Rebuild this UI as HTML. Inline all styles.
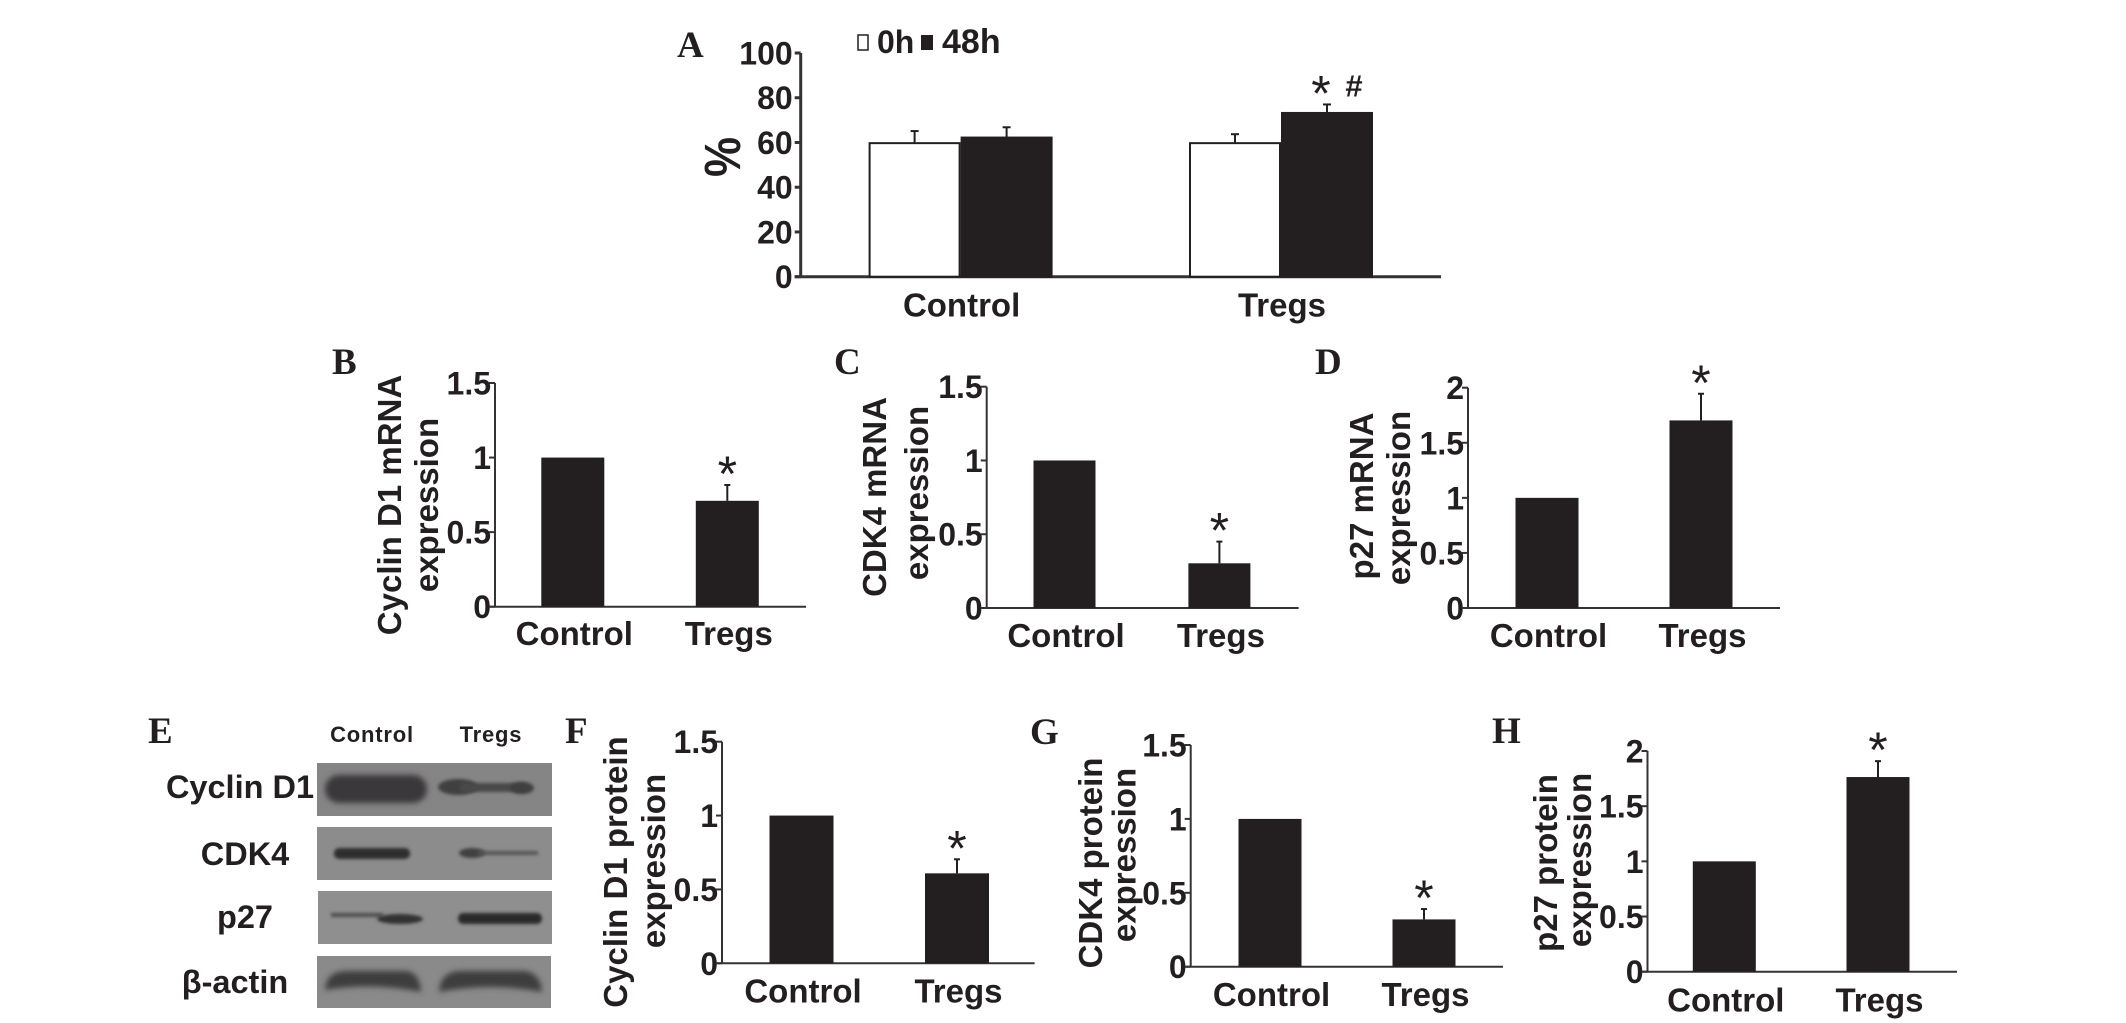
<!DOCTYPE html>
<html lang="en">
<head>
<meta charset="utf-8">
<title>Cell cycle protein and mRNA expression panels</title>
<style>
html,body{margin:0;padding:0;background:#fff;}
svg{display:block;}
text{font-family:"Liberation Sans",Arial,sans-serif;fill:#231f20;}
.bold{font-weight:700;}
.letter{font-family:"Liberation Serif",serif;font-weight:700;font-size:37px;}
</style>
</head>
<body>
<svg id="figure" xmlns="http://www.w3.org/2000/svg" width="2126" height="1023" viewBox="0 0 2126 1023">
  <defs>
    <filter id="blur2" x="-20%" y="-400%" width="140%" height="900%"><feGaussianBlur stdDeviation="1.6"/></filter>
    <filter id="blur4" x="-20%" y="-100%" width="140%" height="300%"><feGaussianBlur stdDeviation="3"/></filter>
    <clipPath id="blot-clip-1"><rect x="317" y="763" width="235" height="53"/></clipPath>
  </defs>
  <rect width="2126" height="1023" fill="#ffffff"/>

  <g>
    <text class="letter" x="148" y="743">E</text>
    <text class="bold" x="372" y="742" text-anchor="middle" font-size="22" letter-spacing="0.8" fill="#333">Control</text>
    <text class="bold" x="491" y="742" text-anchor="middle" font-size="22" letter-spacing="0.8" fill="#333">Tregs</text>

    <text class="bold" x="240" y="798" text-anchor="middle" font-size="32.5">Cyclin D1</text>
    <text class="bold" x="245" y="865" text-anchor="middle" font-size="32.5">CDK4</text>
    <text class="bold" x="245" y="928" text-anchor="middle" font-size="32.5">p27</text>
    <text class="bold" x="235" y="993" text-anchor="middle" font-size="32.5">β-actin</text>

    <g>
      <rect x="317" y="763" width="235" height="53" fill="#858585"/>
      <rect x="325" y="775" width="102" height="28" rx="14" fill="#3b393a" filter="url(#blur4)"/>
      <ellipse cx="458" cy="787" rx="20" ry="8" fill="#3f3f3f" filter="url(#blur2)"/>
      <rect x="460" y="783" width="66" height="9" fill="#484848" filter="url(#blur2)"/>
      <ellipse cx="522" cy="788" rx="12" ry="6" fill="#3f3f3f" filter="url(#blur2)"/>
    </g>
    <g>
      <rect x="317" y="827" width="235" height="53" fill="#8c8c8c"/>
      <rect x="334" y="848" width="76" height="11" rx="5" fill="#2e2e2e" filter="url(#blur2)"/>
      <ellipse cx="472" cy="853" rx="13" ry="5" fill="#404040" filter="url(#blur2)"/>
      <rect x="478" y="851" width="60" height="4" fill="#555" filter="url(#blur2)"/>
    </g>
    <g>
      <rect x="318" y="891" width="234" height="53" fill="#8f8f8f"/>
      <rect x="331" y="913" width="52" height="4" fill="#4e4e4e" filter="url(#blur2)"/>
      <ellipse cx="400" cy="919" rx="23" ry="5" fill="#303030" filter="url(#blur2)"/>
      <rect x="458" y="913" width="84" height="11" rx="5" fill="#2c2c2c" filter="url(#blur2)"/>
    </g>
    <g>
      <rect x="317" y="956" width="234" height="52" fill="#8a8a8a"/>
      <path d="M325 990 Q326 972 345 971 L405 971 Q420 972 421 992 Q372 982 325 990 Z" fill="#3c3c3c" filter="url(#blur4)"/>
      <path d="M439 992 Q440 972 460 971 L525 971 Q541 974 542 992 Q490 982 439 992 Z" fill="#3c3c3c" filter="url(#blur4)"/>
    </g>
  </g>
  <g id="charts"></g>
</svg>

<script>
// Shared categories and tick labels
const categories = ['Control', 'Tregs'];
const seriesNames = ['0h', '48h'];
const ticksPercent = [0, 20, 40, 60, 80, 100];
const ticksFold15 = [0, 0.5, 1, 1.5];
const ticksFold2 = [0, 0.5, 1, 1.5, 2];

// Panel A: percent, grouped by category [Control, Tregs]
const valuesA0h = [59.7, 59.7];
const errorsA0h = [5.4, 4.0];
const valuesA48h = [62.2, 73.2];
const errorsA48h = [4.6, 3.8];

// Panels B-D: mRNA expression
const valuesB = [1, 0.71];
const errorsB = [0, 0.106];
const valuesC = [1, 0.303];
const errorsC = [0, 0.147];
const valuesD = [1, 1.703];
const errorsD = [0, 0.242];

// Panels F-H: protein expression
const valuesF = [1, 0.609];
const errorsF = [0, 0.095];
const valuesG = [1, 0.32];
const errorsG = [0, 0.07];
const valuesH = [1, 1.764];
const errorsH = [0, 0.144];

const NS = 'http://www.w3.org/2000/svg';
const INK = '#231f20';
const root = document.getElementById('charts');

function addEl(tag, props) {
  const el = document.createElementNS(NS, tag);
  for (const k in props) el.setAttribute(k, props[k]);
  root.appendChild(el);
  return el;
}
function addText(str, props) {
  const el = addEl('text', props);
  el.textContent = str;
  return el;
}
function tickFormat(v) { return String(v); }

const panels = [
  {id:'b', letter:'B', letterX:332, letterY:374, axisX:495, baseY:606.7, top:1.5, topY:383, ticks:ticksFold15, endX:806, values:valuesB, errors:errorsB, firstCenter:572.8, step:154.5, barW:63, labelY:645, tickGap:4,
   titles:[['Cyclin D1 mRNA',401,505],['expression',438,505]]},
  {id:'c', letter:'C', letterX:834, letterY:374, axisX:986.7, baseY:608, top:1.5, topY:386.7, ticks:ticksFold15, endX:1298.6, values:valuesC, errors:errorsC, firstCenter:1064.5, step:154.9, barW:62, labelY:647, tickGap:4,
   titles:[['CDK4 mRNA',886,497],['expression',928,493]]},
  {id:'d', letter:'D', letterX:1315, letterY:374, axisX:1468, baseY:608, top:2, topY:387.7, ticks:ticksFold2, endX:1780, values:valuesD, errors:errorsD, firstCenter:1547, step:154, barW:63, labelY:647, tickGap:4,
   titles:[['p27 mRNA',1373,496],['expression',1410,498]]},
  {id:'f', letter:'F', letterX:565, letterY:743, axisX:722, baseY:963.3, top:1.5, topY:741.7, ticks:ticksFold15, endX:1034.6, values:valuesF, errors:errorsF, firstCenter:801.5, step:155.5, barW:64, labelY:1002.7, tickGap:4,
   titles:[['Cyclin D1 protein',627,872],['expression',665,861]]},
  {id:'g', letter:'G', letterX:1030, letterY:744, axisX:1190.7, baseY:966.7, top:1.5, topY:745, ticks:ticksFold15, endX:1503, values:valuesG, errors:errorsG, firstCenter:1270, step:154, barW:63, labelY:1006, tickGap:4,
   titles:[['CDK4 protein',1102,863],['expression',1135.6,855]]},
  {id:'h', letter:'H', letterX:1492, letterY:743, axisX:1647.5, baseY:971.7, top:2, topY:751, ticks:ticksFold2, endX:1957, values:valuesH, errors:errorsH, firstCenter:1724.3, step:153.7, barW:63, labelY:1011.7, tickGap:4,
   titles:[['p27 protein',1557,863],['expression',1591,860]]}
];

function drawAxes(p, width) {
  const yScale = v => p.baseY - (v / p.top) * (p.baseY - p.topY);
  const yAxis = addEl('line', {x1:p.axisX, x2:p.axisX, y1:yScale(p.top), y2:p.baseY, stroke:'#333', 'stroke-width':width});
  
  
  p.ticks.forEach(t => {
    const mark = addEl('line', {x1:p.axisX - 6, x2:p.axisX, y1:yScale(t), y2:yScale(t), stroke:'#333', 'stroke-width':width});
    
    
    const label = addText(tickFormat(t), {class:'bold', x:p.axisX - p.tickGap, y:yScale(t) + 11.5, 'text-anchor':'end', 'font-size':32});
    
    
  });
  const xAxis = addEl('line', {x1:p.axisX - 6, x2:p.endX, y1:p.baseY, y2:p.baseY, stroke:'#333', 'stroke-width':width});
  
  
  return yScale;
}

function drawError(x, yFrom, yTo, capHalf) {
  const stem = addEl('line', {x1:x, x2:x, y1:yFrom, y2:yTo, stroke:INK, 'stroke-width':2});
  
  
  const cap = addEl('line', {x1:x - capHalf, x2:x + capHalf, y1:yTo, y2:yTo, stroke:INK, 'stroke-width':2});
  
  
}

function drawStar(cx, errY) {
  const star = addText('*', {x:cx, y:errY + 6, 'text-anchor':'middle', 'font-size':50});
  
  
}

panels.forEach(p => {
  const letter = addText(p.letter, {class:'letter', x:p.letterX, y:p.letterY});
  
  

  const yScale = drawAxes(p, 2);
  const xScale = i => p.firstCenter + i * p.step;

  p.values.forEach((v, i) => {
    const cx = xScale(i);
    const bar = addEl('rect', {x:cx - p.barW / 2, y:yScale(v), width:p.barW, height:p.baseY - yScale(v), fill:INK});
    
    
    if (p.errors[i] > 0) {
      const errY = yScale(v + p.errors[i]);
      drawError(cx, yScale(v), errY, 3);
      drawStar(cx, errY);
    }
    const cat = addText(categories[i], {class:'bold', x:cx + 1.5, y:p.labelY, 'text-anchor':'middle', 'font-size':33});
    
    
  });

  p.titles.forEach(t => {
    const title = addText(t[0], {class:'bold', x:0, y:0, 'text-anchor':'middle', 'font-size':33, transform:'translate(' + t[1] + ' ' + t[2] + ') rotate(-90)'});
    
    
  });
});

// Panel A: grouped bars with legend
const panelA = {axisX:800.7, baseY:276.7, top:100, topY:53, ticks:ticksPercent, endX:1441, tickGap:8};
const yA = drawAxes(panelA, 3);
const groupX = i => 960.6 + i * 320.4;
const seriesOffset = s => (s === 0 ? -46 : 46);
const seriesValues = [valuesA0h, valuesA48h];
const seriesErrors = [errorsA0h, errorsA48h];
const seriesFill = ['#ffffff', INK];

const letterA = addText('A', {class:'letter', x:677, y:57});



const percentTitle = addText('%', {class:'bold', x:0, y:0, 'text-anchor':'middle', 'font-size':46, transform:'translate(740 157) rotate(-90) scale(0.98 1.1)'});



seriesValues.forEach((vals, s) => {
  vals.forEach((v, i) => {
    const cx = groupX(i) + seriesOffset(s);
    const errY = yA(v + seriesErrors[s][i]);
    drawError(cx, yA(v), errY, 4);
    const bar = addEl('rect', {x:cx - 45, y:yA(v), width:90, height:panelA.baseY - yA(v), fill:seriesFill[s], stroke:INK, 'stroke-width':2});
    
    
  });
});

categories.forEach((c, i) => {
  const cat = addText(c, {class:'bold', x:groupX(i) + 1, y:316.7, 'text-anchor':'middle', 'font-size':33});
  
  
});

const errTopA = yA(valuesA48h[1] + errorsA48h[1]);
const starA = addText('*', {x:groupX(1) + seriesOffset(1) - 6, y:errTopA + 6, 'text-anchor':'middle', 'font-size':50});


const hashA = addText('#', {class:'bold', x:groupX(1) + seriesOffset(1) + 27, y:errTopA - 8, 'text-anchor':'middle', 'font-size':31});



// Legend
const swatch0 = addEl('rect', {x:858, y:35, width:10, height:15, fill:'#fff', stroke:INK, 'stroke-width':1.5});


const legend0 = addText(seriesNames[0], {class:'bold', x:877, y:53, 'font-size':32});


const swatch1 = addEl('rect', {x:921, y:35, width:12, height:15, fill:INK});


const legend1 = addText(seriesNames[1], {class:'bold', x:942, y:53, 'font-size':34});


</script>
</body>
</html>
